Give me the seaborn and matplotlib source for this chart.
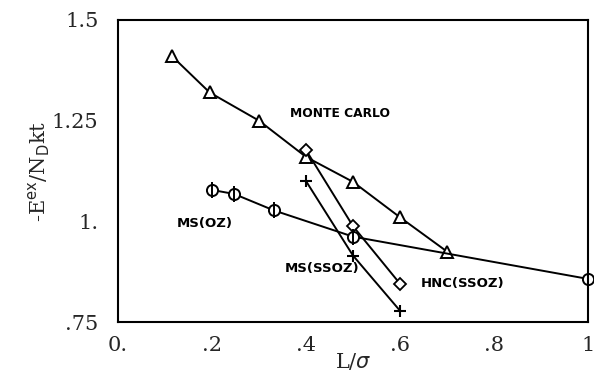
import matplotlib
matplotlib.use("Agg")
import pandas as pd
import seaborn as sns
import matplotlib.pyplot as plt

# values
mc_x = [0.115, 0.195, 0.30, 0.40, 0.50, 0.60, 0.70]
mc_y = [1.41, 1.32, 1.25, 1.16, 1.098, 1.01, 0.925]

msoz_x = [0.20, 0.247, 0.332, 0.50, 1.00]
msoz_y = [1.078, 1.068, 1.027, 0.962, 0.857]

hnc_x = [0.40, 0.50, 0.60]
hnc_y = [1.177, 0.988, 0.845]

msssoz_x = [0.40, 0.50, 0.60]
msssoz_y = [1.10, 0.915, 0.778]

x_ticks = [0.0, 0.2, 0.4, 0.6, 0.8, 1.0]
x_labels = ["0.", ".2", ".4", ".6", ".8", "1"]
y_ticks = [0.75, 1.0, 1.25, 1.5]
y_labels = [".75", "1.", "1.25", "1.5"]

sns.set_style("white")
plt.rcParams["font.family"] = ["DejaVu Sans"]

fig = plt.figure(figsize=(5.94, 3.85), dpi=100)
ax = fig.add_axes([118 / 594, 1 - 322 / 385, 470 / 594, 302 / 385])

lw = 1.4
mk = dict(markerfacecolor="white", markeredgecolor="black", clip_on=False)

mc = pd.DataFrame({"x": mc_x, "y": mc_y})
sns.lineplot(data=mc, x="x", y="y", ax=ax, color="black", lw=lw, sort=False,
             marker="^", markersize=8, markeredgewidth=1.4, **mk)

oz = pd.DataFrame({"x": msoz_x, "y": msoz_y})
sns.lineplot(data=oz, x="x", y="y", ax=ax, color="black", lw=lw, sort=False,
             marker="o", markersize=8, markeredgewidth=1.4, **mk)
ax.scatter(msoz_x, msoz_y, marker="|", s=130, color="black", linewidths=1.4,
           zorder=5, clip_on=False)

hnc = pd.DataFrame({"x": hnc_x, "y": hnc_y})
sns.lineplot(data=hnc, x="x", y="y", ax=ax, color="black", lw=lw, sort=False,
             marker="D", markersize=6, markeredgewidth=1.3, **mk)

ss = pd.DataFrame({"x": msssoz_x, "y": msssoz_y})
sns.lineplot(data=ss, x="x", y="y", ax=ax, color="black", lw=lw, sort=False,
             marker="+", markersize=9, markeredgecolor="black", markeredgewidth=1.5)

lab = dict(fontsize=9.5, fontweight="bold", color="black")
ax.text(0.365, 1.267, "MONTE CARLO", ha="left", va="center", fontsize=8.8,
        fontweight="bold", color="black")
ax.text(0.125, 0.995, "MS(OZ)", ha="left", va="center", **lab)
ax.text(0.355, 0.882, "MS(SSOZ)", ha="left", va="center", **lab)
ax.text(0.645, 0.845, "HNC(SSOZ)", ha="left", va="center", **lab)

ax.set_xlim(0, 1.0)
ax.set_ylim(0.75, 1.5)
ax.set_xticks(x_ticks)
ax.set_xticklabels(x_labels, fontfamily="DejaVu Serif", fontsize=15)
ax.set_yticks(y_ticks)
ax.set_yticklabels(y_labels, fontfamily="DejaVu Serif", fontsize=15)
ax.tick_params(direction="in", length=4, width=1.2, color="black")
ax.tick_params(axis="x", pad=10)
ax.tick_params(axis="y", pad=14)
for s in ax.spines.values():
    s.set_color("black")
    s.set_linewidth(1.5)

ax.set_xlabel(r"L/$\sigma$", fontfamily="DejaVu Serif", fontsize=15)
ax.set_ylabel(r"-E$^{\mathrm{ex}}$/N$_{\mathrm{D}}$kt", fontfamily="DejaVu Serif",
              fontsize=15)
ax.xaxis.set_label_coords(0.5, -0.095)
ax.yaxis.set_label_coords(-0.14, 0.5)

fig.savefig("out.png", dpi=100)
